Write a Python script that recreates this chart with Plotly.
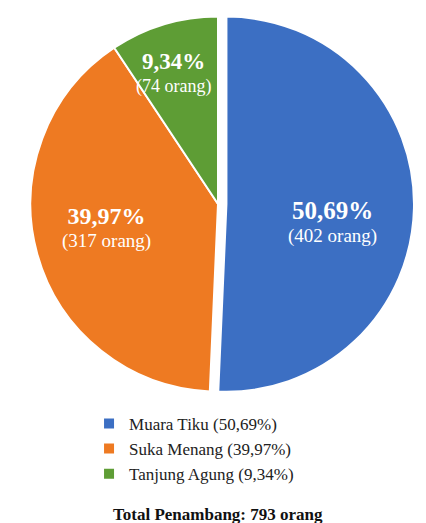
import math
import plotly.graph_objects as go

labels = ["Muara Tiku", "Suka Menang", "Tanjung Agung"]
counts = [402, 317, 74]
pct_text = ["50,69%", "39,97%", "9,34%"]
colors = ["#3C6FC3", "#EE7A22", "#5E9D35"]
total = 793

# styling (not data)
pulls = [0.045, 0, 0]
label_r = [0.6, 0.6, 0.74]
label_nudge = [(-6, 15), (-3, -7), (-4, 2)]  # px
label_pct_size = [25, 24, 23]
label_sub_size = [19, 19, 18]

W, H = 418, 515
ML, MR, MT, MB = 2, 0, 0, 123
pw, ph = W - ML - MR, H - MT - MB
r_px = min(pw, ph) / 2 / (1 + max(pulls))

legend_names = [f"{l} ({p})" for l, p in zip(labels, pct_text)]

fig = go.Figure(go.Pie(
    labels=legend_names,
    values=counts,
    textinfo="none",
    marker=dict(colors=colors, line=dict(color="white", width=2)),
    sort=False,
    direction="clockwise",
    rotation=0,
    pull=pulls,
    hoverinfo="label+value",
))

annotations = []
tot = sum(counts)
cum = 0
for i, c in enumerate(counts):
    mid = (cum + c / 2) / tot * 2 * math.pi
    cum += c
    rr = (label_r[i] + pulls[i]) * r_px
    dx = math.sin(mid) * rr + label_nudge[i][0]
    dy = math.cos(mid) * rr - label_nudge[i][1]
    annotations.append(dict(
        text=(f"<b><span style='font-size:{label_pct_size[i]}px'>{pct_text[i]}</span></b><br>"
              f"<span style='font-size:{label_sub_size[i]}px'>({c} orang)</span>"),
        x=0.5 + dx / pw, y=0.5 + dy / ph, xref="paper", yref="paper",
        xanchor="center", yanchor="middle", showarrow=False,
        font=dict(family="Liberation Serif", size=18, color="white"),
    ))

annotations.append(dict(
    text=f"<b>Total Penambang: {total} orang</b>",
    x=0.5, y=-0.293, xref="paper", yref="paper",
    xanchor="center", yanchor="middle", showarrow=False,
    font=dict(family="Liberation Serif", size=17, color="#111"),
))

fig.update_layout(
    width=W, height=H,
    margin=dict(l=ML, r=MR, t=MT, b=MB),
    paper_bgcolor="white",
    plot_bgcolor="white",
    showlegend=True,
    legend=dict(
        orientation="v",
        x=0.19, xanchor="left",
        y=-0.015, yanchor="top",
        font=dict(family="Liberation Serif", size=17, color="#222"),
        itemsizing="constant",
    ),
    annotations=annotations,
)

fig.write_html("out.html")
